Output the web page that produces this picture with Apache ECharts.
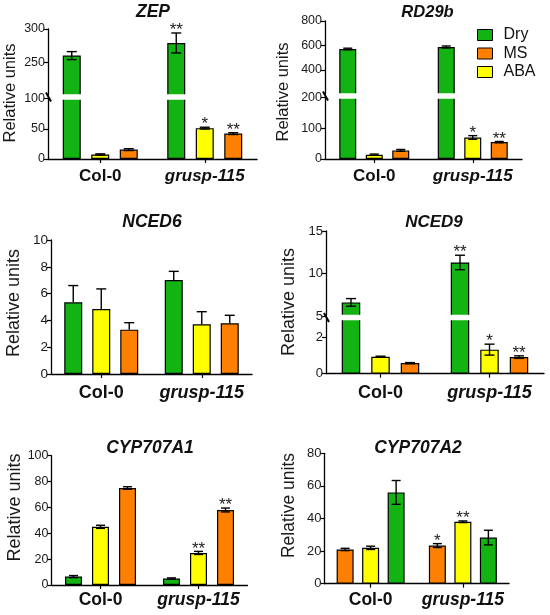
<!DOCTYPE html>
<html><head><meta charset="utf-8">
<script src="https://cdn.jsdelivr.net/npm/echarts@6/dist/echarts.min.js"></script>
<style>html,body{margin:0;padding:0;background:#fff}#c{width:550px;height:615px}</style>
</head><body><div id="c"></div>
<script>
// ---------- data ----------
const categories = ['Col-0', 'grusp-115'];
const legendNames = ['Dry', 'MS', 'ABA'];

// ZEP (bar order: Dry, ABA, MS)
const zepOrder = ['Dry', 'ABA', 'MS'];
const zepMean = [[260, 279], [7.5, 51], [15.5, 42]];
const zepErr = [[6, 15], [1, 1.5], [1.5, 1.5]];
const zepStars = [['', '**'], ['', '*'], ['', '**']];
const zepRangeLow = [0, 100], zepRangeHigh = [200, 300];
const zepTicksLow = [0, 50, 100], zepTicksHigh = [250, 300];

// RD29b
const rd29bOrder = ['Dry', 'ABA', 'MS'];
const rd29bMean = [[572, 588], [14, 70], [28, 55]];
const rd29bErr = [[6, 8], [2, 6], [3, 2]];
const rd29bStars = [['', ''], ['', '*'], ['', '**']];
const rd29bRangeLow = [0, 200], rd29bRangeHigh = [200, 800];
const rd29bTicksLow = [0, 100, 200], rd29bTicksHigh = [400, 600, 800];

// NCED6
const nced6Order = ['Dry', 'ABA', 'MS'];
const nced6Mean = [[5.35, 7.01], [4.85, 3.71], [3.31, 3.78]];
const nced6Err = [[1.25, 0.65], [1.5, 0.94], [0.52, 0.6]];
const nced6Range = [0, 10];
const nced6Ticks = [0, 2, 4, 6, 8, 10];

// NCED9
const nced9Order = ['Dry', 'ABA', 'MS'];
const nced9Mean = [[6.6, 11.3], [0.93, 1.32], [0.58, 0.91]];
const nced9Err = [[0.45, 0.85], [0.03, 0.3], [0.03, 0.07]];
const nced9Stars = [['', '**'], ['', '*'], ['', '**']];
const nced9RangeLow = [0, 3], nced9RangeHigh = [5, 15];
const nced9TicksLow = [0, 2], nced9TicksHigh = [5, 10, 15];

// CYP707A1
const cyp1Order = ['Dry', 'ABA', 'MS'];
const cyp1Mean = [[6.5, 5], [45, 24.8], [75, 58]];
const cyp1Err = [[0.8, 0.5], [1.2, 1.2], [1, 1.5]];
const cyp1Stars = [['', ''], ['', '**'], ['', '**']];
const cyp1Range = [0, 100];
const cyp1Ticks = [0, 20, 40, 60, 80, 100];

// CYP707A2 (bar order: MS, ABA, Dry)
const cyp2Order = ['MS', 'ABA', 'Dry'];
const cyp2Mean = [[21, 23.4], [22, 38], [56, 28.3]];
const cyp2Err = [[0.7, 1.2], [1, 0.5], [7.3, 4.5]];
const cyp2Stars = [['', '*'], ['', '**'], ['', '']];
const cyp2Range = [0, 80];
const cyp2Ticks = [0, 20, 40, 60, 80];

// ---------- layout / style ----------
const FONT = '"Liberation Sans", Arial, Helvetica, sans-serif';
const colors = { Dry: '#13b313', MS: '#ff8000', ABA: '#ffff00' };

const panels = [
  { title: 'ZEP', order: zepOrder, mean: zepMean, err: zepErr, stars: zepStars,
    left: 48, width: 209, barW: 18, spacing: 28.5, cap: 10,
    segs: [{ range: zepRangeLow, ticks: zepTicksLow, interval: 50, top: 98.5, height: 60.5 },
           { range: zepRangeHigh, ticks: zepTicksHigh, interval: 50, top: 29, height: 66.5 }],
    tx: 153, ty: 13, tfs: 17.5, nx: 10, ny: 93, nfs: 16.5, yfs: 12.5, xfs: 17, xm: 9 },
  { title: 'RD29b', order: rd29bOrder, mean: rd29bMean, err: rd29bErr, stars: rd29bStars,
    left: 325, width: 197, barW: 17, spacing: 26.5, cap: 9,
    segs: [{ range: rd29bRangeLow, ticks: rd29bTicksLow, interval: 100, top: 97.5, height: 61.5 },
           { range: rd29bRangeHigh, ticks: rd29bTicksHigh, interval: 200, top: 21, height: 73.5 }],
    tx: 427.5, ty: 13, tfs: 16.5, nx: 283, ny: 92, nfs: 16.5, yfs: 12.5, xfs: 17, xm: 9 },
  { title: 'NCED6', order: nced6Order, mean: nced6Mean, err: nced6Err, stars: null, oneSided: true,
    left: 51, width: 201, barW: 18, spacing: 28, cap: 10,
    segs: [{ range: nced6Range, ticks: nced6Ticks, interval: 2, top: 240, height: 134 }],
    tx: 152, ty: 223, tfs: 17.5, nx: 14.5, ny: 303, nfs: 18, yfs: 13.5, xfs: 18, xm: 10.5 },
  { title: 'NCED9', order: nced9Order, mean: nced9Mean, err: nced9Err, stars: nced9Stars,
    left: 326, width: 218, barW: 18.5, spacing: 29.5, cap: 10,
    segs: [{ range: nced9RangeLow, ticks: nced9TicksLow, interval: 2, top: 319, height: 54.7 },
           { range: nced9RangeHigh, ticks: nced9TicksHigh, interval: 5, top: 231, height: 85 }],
    tx: 434, ty: 223, tfs: 17, nx: 289.5, ny: 302, nfs: 18, yfs: 13, xfs: 18, xm: 10.5 },
  { title: 'CYP707A1', order: cyp1Order, mean: cyp1Mean, err: cyp1Err, stars: cyp1Stars,
    left: 51.5, width: 196, barW: 17, spacing: 27, cap: 9,
    segs: [{ range: cyp1Range, ticks: cyp1Ticks, interval: 20, top: 455.7, height: 129.3 }],
    tx: 150, ty: 449.3, tfs: 17.5, nx: 15.5, ny: 507.5, nfs: 18, yfs: 12.5, xfs: 17.5, xm: 6 },
  { title: 'CYP707A2', order: cyp2Order, mean: cyp2Mean, err: cyp2Err, stars: cyp2Stars,
    left: 324.5, width: 184.5, barW: 17, spacing: 25.5, cap: 9,
    segs: [{ range: cyp2Range, ticks: cyp2Ticks, interval: 20, top: 453.3, height: 130.4 }],
    tx: 418, ty: 449, tfs: 17.5, nx: 289.5, ny: 505.5, nfs: 17.5, yfs: 13, xfs: 17.5, xm: 7 }
];

const grids = [], xAxes = [], yAxes = [], series = [], titles = [], graphics = [];

panels.forEach(P => {
  const broken = P.segs.length > 1;
  const lowerMax = broken ? P.segs[0].range[1] : Infinity;
  P.segs.forEach((S, s) => {
    const gi = grids.length;
    grids.push({ left: P.left, top: S.top, width: P.width, height: S.height, containLabel: false, outerBoundsMode: 'none' });
    xAxes.push({
      type: 'category', gridIndex: gi, data: categories, show: s === 0,
      axisLine: { lineStyle: { color: '#000', width: 1.3 } },
      axisTick: { show: true, alignWithLabel: true, length: 4, lineStyle: { color: '#000', width: 1.2 } },
      axisLabel: {
        margin: P.xm, fontFamily: FONT, color: '#111',
        formatter: (v, i) => (i === 0 ? '{n|' + v + '}' : '{i|' + v + '}'),
        rich: {
          n: { fontWeight: 'bold', fontSize: P.xfs, fontFamily: FONT, color: '#111' },
          i: { fontWeight: 'bold', fontStyle: 'italic', fontSize: P.xfs, fontFamily: FONT, color: '#111' }
        }
      }
    });
    yAxes.push({
      type: 'value', gridIndex: gi, min: S.range[0], max: S.range[1], interval: S.interval,
      axisLine: { show: true, lineStyle: { color: '#000', width: 1.3 } },
      axisTick: { show: true, length: 4, customValues: S.ticks, lineStyle: { color: '#000', width: 1.2 } },
      splitLine: { show: false },
      axisLabel: { customValues: S.ticks, margin: 3, fontSize: P.yfs, fontFamily: FONT, color: '#1a1a1a' }
    });
    P.order.forEach((name, k) => {
      series.push({
        type: 'bar', name, xAxisIndex: gi, yAxisIndex: gi,
        barWidth: P.barW, barGap: ((P.spacing - P.barW) / P.barW * 100) + '%',
        data: P.mean[k].map(v => (s === 0 ? v : (v > lowerMax ? v : '-'))),
        itemStyle: { color: colors[name], borderColor: '#000', borderWidth: 1.2 },
        clip: true, emphasis: { disabled: true }, silent: true, z: 2
      });
    });
    const items = [];
    P.order.forEach((name, k) => P.mean[k].forEach((m, c) => {
      const inSeg = s === 0 ? m <= lowerMax : m > lowerMax;
      if (inSeg) items.push({ c, m, e: P.err[k][c], k, star: P.stars ? P.stars[k][c] : '' });
    }));
    series.push({
      type: 'custom', xAxisIndex: gi, yAxisIndex: gi, clip: false, z: 5, silent: true,
      encode: { x: 0, y: 1 },
      data: items.map(d => [d.c, d.m, d.e, d.k]),
      renderItem: (params, api) => {
        const d = items[params.dataIndex];
        const p = api.coord([d.c, d.m]);
        const x = p[0] + (d.k - (P.order.length - 1) / 2) * P.spacing;
        const yT = api.coord([d.c, d.m + d.e])[1];
        const yB = P.oneSided ? p[1] : api.coord([d.c, d.m - d.e])[1];
        const h = P.cap / 2;
        const st = { stroke: '#000', lineWidth: 1.4 };
        const ch = [
          { type: 'line', shape: { x1: x, y1: yT, x2: x, y2: yB }, style: st },
          { type: 'line', shape: { x1: x - h, y1: yT, x2: x + h, y2: yT }, style: st }
        ];
        if (!P.oneSided) ch.push({ type: 'line', shape: { x1: x - h, y1: yB, x2: x + h, y2: yB }, style: st });
        if (d.star) ch.push({ type: 'text', x: x, y: yT - 2.5,
          style: { text: d.star, fill: '#222', fontSize: 17, fontFamily: FONT, align: 'center', verticalAlign: 'middle' } });
        return { type: 'group', children: ch };
      }
    });
  });
  if (broken) {
    const up = P.segs[1], lo = P.segs[0];
    const upBottom = up.top + up.height;
    const gm = (upBottom + lo.top) / 2;
    // white band = the axis break gap across the bars
    graphics.push({ type: 'rect', shape: { x: P.left + 1, y: upBottom - 1.2, width: P.width - 1, height: lo.top - upBottom + 2.4 },
      style: { fill: '#fff' }, z: 100, silent: true });
    graphics.push({ type: 'line', shape: { x1: P.left - 2, y1: gm - 4.5, x2: P.left + 3, y2: gm + 4.5 },
      style: { stroke: '#000', lineWidth: 2 }, z: 101, silent: true });
  }
  titles.push({ text: P.title, left: P.tx, top: P.ty - P.tfs / 2 - 1, textAlign: 'center', padding: 0,
    textStyle: { fontSize: P.tfs, fontWeight: 'bold', fontStyle: 'italic', fontFamily: FONT, color: '#111' } });
  graphics.push({ type: 'text', x: P.nx, y: P.ny, rotation: Math.PI / 2,
    style: { text: 'Relative units', fontSize: P.nfs, fontFamily: FONT, fill: '#1a1a1a', align: 'center', verticalAlign: 'middle' } });
});

const chart = echarts.init(document.getElementById('c'), null, { renderer: 'canvas' });
chart.setOption({
  animation: false,
  backgroundColor: '#fff',
  title: titles,
  legend: {
    data: legendNames, orient: 'vertical', left: 477, top: 27, padding: 0,
    itemWidth: 15, itemHeight: 11, itemGap: 2.5, icon: 'rect', selectedMode: false,
    itemStyle: { borderColor: '#000', borderWidth: 1 },
    textStyle: { fontSize: 16, fontFamily: FONT, color: '#111', padding: [0, 0, 0, 6] }
  },
  grid: grids, xAxis: xAxes, yAxis: yAxes, series: series, graphic: graphics
});
</script></body></html>
